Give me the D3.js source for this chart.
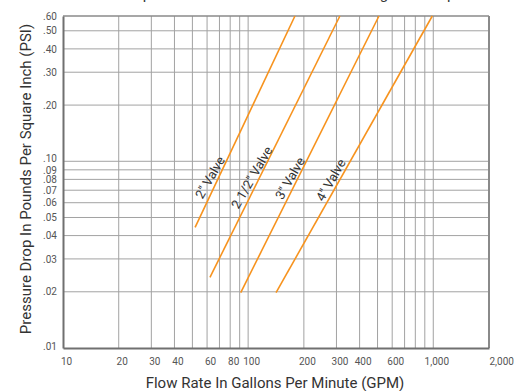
<!DOCTYPE html>
<html>
<head>
<meta charset="utf-8">
<script src="https://cdn.jsdelivr.net/npm/d3@7"></script>
<style>
  html, body { margin: 0; padding: 0; background: #fff; }
  svg { display: block; font-family: Roboto, "Open Sans", sans-serif; }
</style>
</head>
<body>
<div id="chart"></div>
<script>
// ---- data ----
const valves = ["2\" Valve", "2 1/2\" Valve", "3\" Valve", "4\" Valve"];
const flowStart = [51.7, 62.2, 91.2, 141.5];     // GPM at lower end of each line
const psiStart  = [0.0443, 0.0239, 0.0198, 0.0198];
const flowEnd   = [179, 313, 509, 988];          // GPM where the line meets the top (.60)
const psiEnd    = [0.6, 0.6, 0.6, 0.6];
const labelFlow = [62.2, 104.6, 168.4, 279.8];
const labelPsi  = [0.0819, 0.0819, 0.0811, 0.0794];

const xGrid = [20, 30, 40, 50, 60, 70, 80, 90, 100, 200, 300, 400, 500, 600, 700, 800, 900, 1000];
const xTickValues = [10, 20, 30, 40, 60, 80, 100, 200, 300, 400, 600, 1000, 2000];
const xTickLabels = ["10", "20", "30", "40", "60", "80", "100", "200", "300", "400", "600", "1,000", "2,000"];
const yGrid = [0.02, 0.03, 0.04, 0.05, 0.06, 0.07, 0.08, 0.09, 0.10, 0.20, 0.30, 0.40, 0.50];
const yTickValues = [0.01, 0.02, 0.03, 0.04, 0.05, 0.06, 0.07, 0.08, 0.09, 0.10, 0.20, 0.30, 0.40, 0.50, 0.60];
const yTickLabels = [".01", ".02", ".03", ".04", ".05", ".06", ".07", ".08", ".09", ".10", ".20", ".30", ".40", ".50", ".60"];

const titleText = "Valve Pressure Drop Chart For Cool Water Flows Through New Pipe";
const xTitle = "Flow Rate In Gallons Per Minute (GPM)";
const yTitle = "Pressure Drop In Pounds Per Square Inch (PSI)";

// ---- layout ----
const W = 521, H = 391;
const L = 63, R = 489, T = 16, B = 348;

const svg = d3.select("#chart").append("svg").attr("width", W).attr("height", H);

const x = d3.scaleLog().domain([10, 2000]).range([L, R]);
const y = d3.scaleLog().domain([0.01, 0.6]).range([B, T]);

// title (clipped at the top of the picture, as in the reference)
const title = svg.append("text")
  .attr("x", 28).attr("y", -1)
  .attr("font-size", 15).attr("fill", "#333")
  .text(titleText);
try {
  const idx = titleText.indexOf("Drop") + 3;
  const off = title.node().getSubStringLength(0, idx) + title.node().getSubStringLength(idx, 1) / 2;
  title.attr("x", 147 - off);
} catch (e) {}

// gridlines
const grid = svg.append("g").attr("stroke", "#a2a2a2").attr("stroke-width", 1);
grid.selectAll("line.v").data(xGrid).join("line")
  .attr("x1", d => x(d)).attr("x2", d => x(d))
  .attr("y1", T).attr("y2", B);
grid.selectAll("line.h").data(yGrid).join("line")
  .attr("x1", L).attr("x2", R)
  .attr("y1", d => y(d)).attr("y2", d => y(d));

// frame
svg.append("line").attr("x1", L).attr("x2", R).attr("y1", T).attr("y2", T)
  .attr("stroke", "#8a8a8a").attr("stroke-width", 1.5);
svg.append("line").attr("x1", R).attr("x2", R).attr("y1", T).attr("y2", B)
  .attr("stroke", "#8a8a8a").attr("stroke-width", 2);

// axes using d3 axis generators
const xAxis = d3.axisBottom(x).tickValues(xTickValues)
  .tickFormat((d, i) => xTickLabels[i]).tickSize(0).tickPadding(10);
const gx = svg.append("g").attr("transform", `translate(0,${B})`).call(xAxis);
gx.select(".domain").attr("stroke", "#707070").attr("stroke-width", 2);
gx.selectAll("text").attr("font-size", 10).attr("fill", "#555")
  .attr("font-family", "Roboto, sans-serif")
  .attr("dx", 3);
gx.selectAll(".tick").filter(d => d === 2000).select("text")
  .attr("text-anchor", "start").attr("dx", 0);

const yAxis = d3.axisLeft(y).tickValues(yTickValues)
  .tickFormat((d, i) => yTickLabels[i]).tickSize(0).tickPadding(6);
const gy = svg.append("g").attr("transform", `translate(${L},0)`).call(yAxis);
gy.select(".domain").attr("stroke", "#707070").attr("stroke-width", 2);
gy.selectAll("text").attr("font-size", 10).attr("fill", "#555")
  .attr("font-family", "Roboto, sans-serif");
// small nudge so the crowded .10 / .09 labels do not collide
gy.selectAll(".tick").filter(d => d === 0.10).select("text").attr("y", -3);
gy.selectAll(".tick").filter(d => d === 0.01).select("text").attr("y", -1.5);

// valve lines
const lines = valves.map((v, i) => [[flowStart[i], psiStart[i]], [flowEnd[i], psiEnd[i]]]);
const lineGen = d3.line().x(d => x(d[0])).y(d => y(d[1]));
svg.append("g").selectAll("path").data(lines).join("path")
  .attr("d", lineGen)
  .attr("fill", "none")
  .attr("stroke", "#f7931e")
  .attr("stroke-width", 1.6);

// valve labels
svg.append("g").selectAll("text").data(valves).join("text")
  .attr("transform", (d, i) => `translate(${x(labelFlow[i])},${y(labelPsi[i])}) rotate(-60)`)
  .attr("text-anchor", "middle")
  .attr("dy", "0.35em")
  .attr("font-size", 13)
  .attr("fill", "#333")
  .text(d => d);

// axis titles
svg.append("text")
  .attr("x", 275).attr("y", 388)
  .attr("text-anchor", "middle")
  .attr("font-size", 15).attr("fill", "#333")
  .text(xTitle);
svg.append("text")
  .attr("transform", "translate(31,179) rotate(-90)")
  .attr("text-anchor", "middle")
  .attr("font-size", 15).attr("fill", "#333")
  .text(yTitle);
</script>
</body>
</html>
